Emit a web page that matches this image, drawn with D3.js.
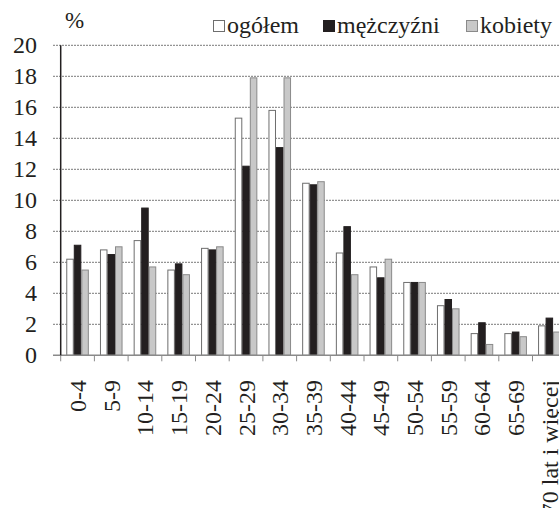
<!DOCTYPE html>
<html>
<head>
<meta charset="utf-8">
<script src="https://cdn.jsdelivr.net/npm/d3@7"></script>
<style>
  body { margin: 0; background: #fff; }
</style>
</head>
<body>
<script>
var outerWidth = 559;
var outerHeight = 508;
var FONT = "'Liberation Serif'";

// age groups
var categories = ['0-4', '5-9', '10-14', '15-19', '20-24', '25-29', '30-34', '35-39',
  '40-44', '45-49', '50-54', '55-59', '60-64', '65-69', '70 lat i więcej'];

var seriesNames = ['ogółem', 'mężczyźni', 'kobiety'];

var ogolem    = [6.2, 6.8, 7.4, 5.5, 6.9, 15.3, 15.8, 11.1, 6.6, 5.7, 4.7, 3.2, 1.4, 1.4, 1.9];
var mezczyzni = [7.1, 6.5, 9.5, 5.9, 6.8, 12.2, 13.4, 11.0, 8.3, 5.0, 4.7, 3.6, 2.1, 1.5, 2.4];
var kobiety   = [5.5, 7.0, 5.7, 5.2, 7.0, 17.9, 17.9, 11.2, 5.2, 6.2, 4.7, 3.0, 0.7, 1.2, 1.5];

var yTicks = [0, 2, 4, 6, 8, 10, 12, 14, 16, 18, 20];

var fills = ['#ffffff', '#231f20', '#c8c8c8'];
var strokes = ['#6e6e6e', '#231f20', '#8a8a8a'];

var svg = d3.select('body').append('svg')
  .attr('width', outerWidth)
  .attr('height', outerHeight);

var x0 = d3.scaleBand()
  .domain(categories)
  .range([60.7, 60.7 + 15 * 33.7])
  .padding(0);

var x1 = d3.scaleBand()
  .domain(seriesNames)
  .range([x0.bandwidth() * 0.165, x0.bandwidth() * 0.835])
  .padding(0);

var y = d3.scaleLinear()
  .domain([0, 20])
  .range([355.3, 45.3]);

// gridlines
svg.append('g')
  .selectAll('line')
  .data(yTicks.filter(function(d){ return d > 0; }))
  .enter()
  .append('line')
  .attr('x1', 53)
  .attr('x2', outerWidth)
  .attr('y1', function(d){ return y(d); })
  .attr('y2', function(d){ return y(d); })
  .attr('stroke', '#7a7a7a')
  .attr('stroke-width', 1)
  .attr('stroke-dasharray', '2,1');

// y labels
svg.append('g')
  .selectAll('text')
  .data(yTicks)
  .enter()
  .append('text')
  .attr('x', 37)
  .attr('y', function(d){ return y(d) + 8; })
  .attr('text-anchor', 'end')
  .style('font-family', FONT)
  .attr('font-size', 24)
  .attr('fill', '#231f20')
  .text(function(d){ return d; });

svg.append('text')
  .attr('x', 65)
  .attr('y', 28)
  .style('font-family', FONT)
  .attr('font-size', 23)
  .attr('fill', '#231f20')
  .text('%');

var table = categories.map(function(c, i){
  return { cat: c, values: [ogolem[i], mezczyzni[i], kobiety[i]] };
});

var groups = svg.append('g')
  .selectAll('g')
  .data(table)
  .enter()
  .append('g')
  .attr('transform', function(d){ return 'translate(' + x0(d.cat) + ',0)'; });

groups.selectAll('rect')
  .data(function(d){
    return d.values.map(function(v, j){ return { key: seriesNames[j], value: v, j: j }; });
  })
  .enter()
  .append('rect')
  .attr('x', function(d){ return x1(d.key) + 0.5; })
  .attr('width', x1.bandwidth() - 1)
  .attr('y', function(d){ return y(d.value); })
  .attr('height', function(d){ return y(0) - y(d.value); })
  .attr('fill', function(d){ return fills[d.j]; })
  .attr('stroke', function(d){ return strokes[d.j]; })
  .attr('stroke-width', 1);

// axes lines
svg.append('line')
  .attr('x1', 53).attr('x2', outerWidth)
  .attr('y1', y(0)).attr('y2', y(0))
  .attr('stroke', '#8a8a8a').attr('stroke-width', 1.5);

svg.append('g')
  .selectAll('line')
  .data(d3.range(16))
  .enter()
  .append('line')
  .attr('x1', function(i){ return 60.7 + i * x0.step(); })
  .attr('x2', function(i){ return 60.7 + i * x0.step(); })
  .attr('y1', y(0))
  .attr('y2', y(0) + 6)
  .attr('stroke', '#8a8a8a');

svg.append('line')
  .attr('x1', 60.7).attr('x2', 60.7)
  .attr('y1', y(20)).attr('y2', y(0))
  .attr('stroke', '#231f20').attr('stroke-width', 1.5);

// x labels
svg.append('g')
  .selectAll('text')
  .data(categories)
  .enter()
  .append('text')
  .attr('transform', function(d){
    return 'translate(' + (x0(d) + x0.bandwidth() / 2 + 8.5) + ',380) rotate(-90)';
  })
  .attr('text-anchor', 'end')
  .style('font-family', FONT)
  .attr('font-size', 24)
  .attr('fill', '#231f20')
  .text(function(d){ return d; });

// legend
var legendX = [213, 323, 466];
var legend = svg.append('g')
  .selectAll('g')
  .data(seriesNames)
  .enter()
  .append('g')
  .attr('transform', function(d, i){ return 'translate(' + legendX[i] + ',0)'; });

legend.append('rect')
  .attr('x', 0.5)
  .attr('y', 20.5)
  .attr('width', 11)
  .attr('height', 11)
  .attr('fill', function(d, i){ return fills[i]; })
  .attr('stroke', function(d, i){ return strokes[i]; });

legend.append('text')
  .attr('x', 14)
  .attr('y', 33)
  .style('font-family', FONT)
  .attr('font-size', 24)
  .attr('fill', '#231f20')
  .text(function(d){ return d; });
</script>
</body>
</html>
